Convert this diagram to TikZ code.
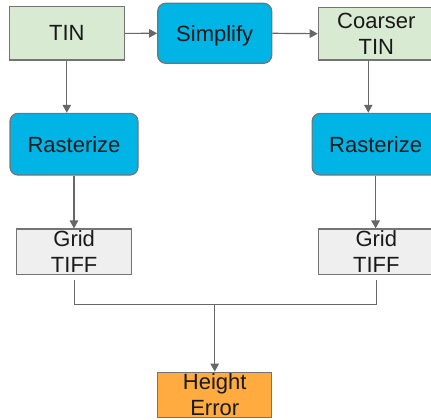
\documentclass[tikz,border=0pt]{standalone}
\usepackage{fontspec}
\setmainfont{Liberation Sans}
\usetikzlibrary{arrows.meta}

\definecolor{inputgreen}{HTML}{D9EAD3}
\definecolor{stepblue}{HTML}{00B4E6}
\definecolor{gridgray}{HTML}{EFEFEF}
\definecolor{errorange}{HTML}{FFAB40}
\definecolor{edgegray}{HTML}{747474}
\definecolor{linkgray}{HTML}{676767}

\tikzset{
  box/.style={draw=edgegray, line width=1.2pt, inner sep=0pt},
  databox/.style={box, fill=inputgreen},
  stepbox/.style={box, fill=stepblue, rounded corners=8pt},
  gridbox/.style={box, fill=gridgray},
  errbox/.style={box, fill=errorange},
  lbl/.style={inner sep=0pt, align=center, text=black!90,
    font=\fontsize{22}{26.5}\selectfont},
  link/.style={draw=linkgray, line width=1.2pt},
  arrowlink/.style={link, -{Triangle[length=8pt,width=8.5pt]}},
}

\begin{document}
\begin{tikzpicture}[x=1pt, y=-1pt]
  \useasboundingbox (0,0) rectangle (431,420);
  \clip (0,0) rectangle (431,420);

  % boxes
  \node[databox, minimum width=115pt, minimum height=53.3pt] (tin) at (66.8,33.4) {};
  \node[stepbox, minimum width=114pt, minimum height=60pt] (simp) at (214.7,33.3) {};
  \node[databox, minimum width=116pt, minimum height=52.7pt] (coarse) at (376.3,33.7) {};
  \node[stepbox, minimum width=128pt, minimum height=61.7pt] (rastL) at (74,144.2) {};
  \node[stepbox, minimum width=127pt, minimum height=61.7pt] (rastR) at (375.6,144.2) {};
  \node[gridbox, minimum width=115pt, minimum height=45.3pt] (gridL) at (74.2,251.7) {};
  \node[gridbox, minimum width=116pt, minimum height=45.3pt] (gridR) at (376.3,251.7) {};
  \node[errbox, minimum width=114pt, minimum height=45pt] (err) at (214.7,394.7) {};

  % connectors
  \draw[arrowlink] (tin.east) -- (simp.west);
  \draw[arrowlink] (simp.east) -- (coarse.west);
  \draw[arrowlink] (tin.south) -- (tin.south |- rastL.north);
  \coordinate (cdrop) at ([xshift=-8pt]coarse.south);
  \draw[arrowlink] (cdrop) -- (cdrop |- rastR.north);
  \draw[arrowlink] (rastL.south) -- (rastL.south |- gridL.north);
  \draw[arrowlink] (rastR.south) -- (rastR.south |- gridR.north);
  \coordinate (joinL) at (gridL.south |- 0,304.5);
  \coordinate (joinR) at (gridR.south |- 0,304.5);
  \coordinate (joinM) at (err.north |- 0,304.5);
  \draw[link] ([yshift=-5pt]gridL.south) -- (joinL) -- (joinR) -- ([yshift=-5pt]gridR.south);
  \draw[arrowlink] (joinM) -- (err.north);

  % labels
  \node[lbl] (tinT) at (tin.center) {TIN};
  \node[lbl, text depth=0pt] (simpT) at (simp.center) {Simplify};
  \node[lbl] (coarseT) at (coarse.center) {Coarser\\TIN};
  \node[lbl] (rastLT) at (rastL.center) {Rasterize};
  \node[lbl] (rastRT) at (rastR.center) {Rasterize};
  \node[lbl] (gridLT) at (gridL.center) {Grid\\TIFF};
  \node[lbl] (gridRT) at (gridR.center) {Grid\\TIFF};
  \node[lbl] (errT) at (err.center) {Height\\Error};
\end{tikzpicture}
\end{document}
